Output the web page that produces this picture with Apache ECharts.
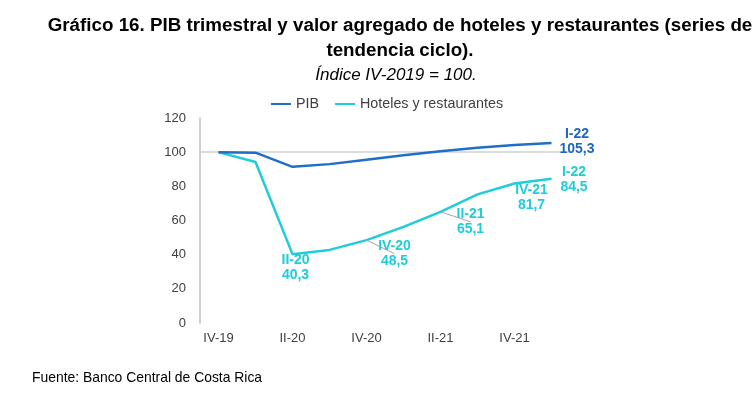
<!DOCTYPE html>
<html>
<head>
<meta charset="utf-8">
<script src="https://cdn.jsdelivr.net/npm/echarts@6/dist/echarts.min.js"></script>
<style>html,body{margin:0;padding:0;background:#fff}#c{width:754px;height:395px}</style>
</head>
<body>
<div id="c"></div>
<script>
const categories = ['IV-19','I-20','II-20','III-20','IV-20','I-21','II-21','III-21','IV-21','I-22'];
const pib = [100, 99.7, 91.4, 93.0, 95.6, 98.2, 100.6, 102.6, 104.2, 105.3];
const hoteles = [100, 94.2, 40.3, 42.8, 48.5, 56.3, 65.1, 75.3, 81.7, 84.5];
const yTicks = [0, 20, 40, 60, 80, 100, 120];
const pibLabelIdx = [9];
const hotLabelIdx = [2, 4, 6, 8, 9];
const leaderIdx = [4, 6];

const FONT = "'Liberation Sans', Arial, sans-serif";
const fmt = v => v.toFixed(1).replace('.', ',');
const C_PIB = '#1F6FC8';
const C_HOT = '#1FCCD9';

const hotLabelCfg = {
  2: {position: 'bottom', distance: 0, offset: [3, -1.5]},
  4: {position: 'bottom', distance: 0, offset: [28, -1.5]},
  6: {position: 'bottom', distance: 0, offset: [30, -5]},
  8: {position: 'bottom', distance: 0, offset: [17, -1]},
  9: {position: 'right', distance: 22.5, align: 'center', offset: [0, 0.5]}
};
const pibLabelCfg = {
  9: {position: 'right', distance: 25.5, align: 'center', offset: [0, -1]}
};

function mkData(vals, idxs, color, cfgs) {
  return vals.map((v, i) => {
    if (idxs.indexOf(i) < 0) return v;
    const c = cfgs[i] || {};
    const item = {
      value: v,
      label: Object.assign({
        show: true,
        formatter: categories[i] + '\n' + fmt(v),
        color: color,
        fontFamily: FONT,
        fontWeight: 'bold',
        fontSize: 14,
        lineHeight: 15
      }, c)
    };
    if (cfgs === hotLabelCfg && leaderIdx.indexOf(i) >= 0) {
      item.labelLine = {show: true, length2: 4, smooth: false, lineStyle: {color: '#A6A6A6', width: 1}};
    }
    return item;
  });
}

const chart = echarts.init(document.getElementById('c'));
chart.setOption({
  animation: false,
  title: [
    {
      text: 'Gráfico 16. PIB trimestral y valor agregado de hoteles y restaurantes (series de\ntendencia ciclo).',
      left: 395, top: 8, textAlign: 'center',
      textStyle: {fontFamily: FONT, fontWeight: 'bold', fontSize: 18.8, lineHeight: 25, color: '#000'}
    },
    {
      text: 'Índice IV-2019 = 100.',
      left: 391, top: 62, textAlign: 'center',
      textStyle: {fontFamily: FONT, fontStyle: 'italic', fontWeight: 'normal', fontSize: 17, color: '#000'}
    },
    {
      text: 'Fuente: Banco Central de Costa Rica',
      left: 27, top: 366,
      textStyle: {fontFamily: FONT, fontWeight: 'normal', fontSize: 13.9, color: '#000'}
    }
  ],
  legend: {
    top: 92, left: 266,
    itemWidth: 20, itemHeight: 2, itemGap: 16,
    icon: 'rect',
    textStyle: {fontFamily: FONT, fontSize: 14.3, color: '#404040'},
    data: ['PIB', 'Hoteles y restaurantes']
  },
  grid: {left: 200, right: 184, top: 118, bottom: 72},
  xAxis: {
    type: 'category',
    data: categories,
    boundaryGap: true,
    axisLine: {show: false},
    axisTick: {show: false},
    axisLabel: {interval: 1, margin: 9, fontFamily: FONT, fontSize: 13, color: '#404040'}
  },
  yAxis: {
    type: 'value',
    min: yTicks[0], max: yTicks[yTicks.length - 1], interval: 20,
    axisLine: {show: true, lineStyle: {color: '#BFBFBF', width: 1.5}},
    axisTick: {show: false},
    splitLine: {show: false},
    axisLabel: {margin: 14, fontFamily: FONT, fontSize: 13, color: '#404040'}
  },
  series: [
    {
      name: 'Hoteles y restaurantes',
      type: 'line',
      symbol: 'circle',
      symbolSize: 0,
      showAllSymbol: true,
      data: mkData(hoteles, hotLabelIdx, C_HOT, hotLabelCfg),
      lineStyle: {color: C_HOT, width: 2.5},
      itemStyle: {color: C_HOT},
      markLine: {
        silent: true, symbol: 'none',
        label: {show: false},
        lineStyle: {color: '#D0D0D0', width: 1.5, type: 'solid'},
        data: [{yAxis: 100}],
        z: 1
      },
      z: 3
    },
    {
      name: 'PIB',
      type: 'line',
      symbol: 'circle',
      symbolSize: 0,
      showAllSymbol: true,
      data: mkData(pib, pibLabelIdx, '#1F66BE', pibLabelCfg),
      lineStyle: {color: C_PIB, width: 2.5},
      itemStyle: {color: C_PIB},
      z: 4
    }
  ]
});
</script>
</body>
</html>
